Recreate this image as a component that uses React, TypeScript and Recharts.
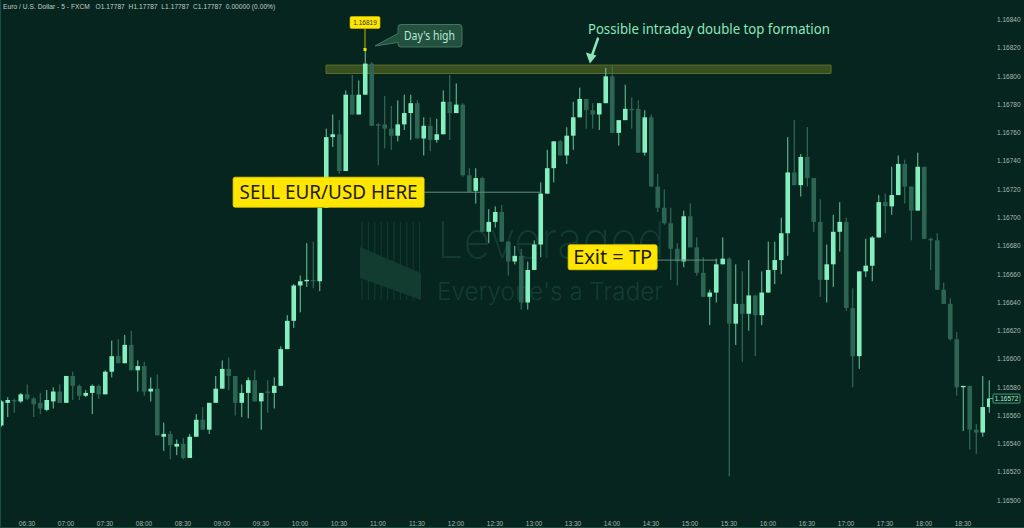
import React from 'react';
import { ComposedChart, Bar, XAxis, YAxis, ReferenceArea, ReferenceLine, ReferenceDot } from 'recharts';

// EUR/USD 5-minute candles, first bar at index -4 (06:10), index 0 = 06:30
const firstIndex = -4;

const opens = [
  1.16553, 1.16569, 1.16571, 1.16570, 1.16575, 1.16572, 1.16569, 1.16564, 1.16570, 1.16577, 1.16569, 1.16588, 1.16581, 1.16574,
  1.16576, 1.16581, 1.16575, 1.16591, 1.16602, 1.16597, 1.16610, 1.16592, 1.16595, 1.16577,
  1.16579, 1.16545, 1.16547, 1.16538, 1.16540, 1.16530, 1.16545, 1.16557, 1.16550, 1.16569,
  1.16579, 1.16593, 1.16588, 1.16569, 1.16576, 1.16585, 1.16570, 1.16577, 1.16576, 1.16581,
  1.16607, 1.16627, 1.16652, 1.16655, 1.16656, 1.16655, 1.16707, 1.16757, 1.16759, 1.16733,
  1.16787, 1.16773, 1.16787, 1.16809, 1.16766, 1.16766, 1.16763, 1.16758, 1.16766, 1.16774,
  1.16781, 1.16756, 1.16765, 1.16755, 1.16759, 1.16782, 1.16774, 1.16780, 1.16730, 1.16719,
  1.16728, 1.16690, 1.16697, 1.16704, 1.16683, 1.16669, 1.16673, 1.16640, 1.16663, 1.16681,
  1.16717, 1.16735, 1.16754, 1.16744, 1.16758, 1.16771, 1.16784, 1.16776, 1.16773, 1.16781,
  1.16800, 1.16760, 1.16769, 1.16777, 1.16777, 1.16746, 1.16771, 1.16722, 1.16707, 1.16696,
  1.16678, 1.16669, 1.16701, 1.16679, 1.16661, 1.16644, 1.16647, 1.16667, 1.16671, 1.16625,
  1.16639, 1.16632, 1.16645, 1.16631, 1.16647, 1.16663, 1.16670, 1.16689, 1.16732, 1.16723,
  1.16743, 1.16728, 1.16697, 1.16656, 1.16667, 1.16690, 1.16697, 1.16636, 1.16602, 1.16662,
  1.16666, 1.16686, 1.16711, 1.16708, 1.16716, 1.16738, 1.16722, 1.16705, 1.16736, 1.16685,
  1.16684, 1.16649, 1.16639, 1.16614, 1.16580, 1.16581, 1.16550, 1.16548, 1.16566,
];

const highs = [
  1.16571, 1.16573, 1.16572, 1.16576, 1.16582, 1.16573, 1.16576, 1.16578, 1.16580, 1.16582, 1.16588, 1.16591, 1.16582, 1.16578,
  1.16582, 1.16582, 1.16592, 1.16613, 1.16614, 1.16617, 1.16620, 1.16599, 1.16598, 1.16587,
  1.16589, 1.16555, 1.16549, 1.16543, 1.16544, 1.16547, 1.16561, 1.16566, 1.16569, 1.16588,
  1.16599, 1.16601, 1.16588, 1.16582, 1.16587, 1.16592, 1.16576, 1.16585, 1.16587, 1.16609,
  1.16631, 1.16653, 1.16659, 1.16682, 1.16683, 1.16707, 1.16763, 1.16773, 1.16769, 1.16790,
  1.16801, 1.16797, 1.16819, 1.16810, 1.16767, 1.16786, 1.16779, 1.16783, 1.16787, 1.16787,
  1.16783, 1.16771, 1.16771, 1.16770, 1.16790, 1.16801, 1.16795, 1.16781, 1.16735, 1.16735,
  1.16729, 1.16706, 1.16708, 1.16709, 1.16683, 1.16680, 1.16678, 1.16669, 1.16684, 1.16725,
  1.16748, 1.16754, 1.16755, 1.16764, 1.16782, 1.16792, 1.16784, 1.16781, 1.16781, 1.16806,
  1.16807, 1.16769, 1.16794, 1.16785, 1.16783, 1.16776, 1.16773, 1.16731, 1.16720, 1.16707,
  1.16682, 1.16705, 1.16710, 1.16686, 1.16672, 1.16649, 1.16671, 1.16686, 1.16672, 1.16667,
  1.16662, 1.16670, 1.16645, 1.16662, 1.16683, 1.16683, 1.16700, 1.16757, 1.16769, 1.16745,
  1.16764, 1.16728, 1.16713, 1.16681, 1.16702, 1.16711, 1.16700, 1.16650, 1.16662, 1.16685,
  1.16687, 1.16716, 1.16717, 1.16736, 1.16744, 1.16741, 1.16722, 1.16746, 1.16736, 1.16686,
  1.16689, 1.16654, 1.16643, 1.16619, 1.16581, 1.16581, 1.16554, 1.16588, 1.16585,
];

const lows = [
  1.16552, 1.16559, 1.16562, 1.16569, 1.16571, 1.16559, 1.16561, 1.16563, 1.16565, 1.16569, 1.16569, 1.16571, 1.16571, 1.16573,
  1.16561, 1.16572, 1.16575, 1.16587, 1.16597, 1.16597, 1.16592, 1.16577, 1.16574, 1.16570,
  1.16546, 1.16535, 1.16529, 1.16532, 1.16529, 1.16530, 1.16545, 1.16550, 1.16547, 1.16569,
  1.16579, 1.16578, 1.16560, 1.16559, 1.16558, 1.16570, 1.16550, 1.16562, 1.16565, 1.16581,
  1.16607, 1.16622, 1.16633, 1.16651, 1.16650, 1.16648, 1.16707, 1.16750, 1.16731, 1.16733,
  1.16773, 1.16773, 1.16787, 1.16765, 1.16737, 1.16749, 1.16748, 1.16754, 1.16762, 1.16755,
  1.16756, 1.16744, 1.16747, 1.16753, 1.16759, 1.16755, 1.16774, 1.16729, 1.16718, 1.16710,
  1.16690, 1.16682, 1.16693, 1.16683, 1.16659, 1.16667, 1.16635, 1.16635, 1.16663, 1.16672,
  1.16717, 1.16725, 1.16744, 1.16738, 1.16748, 1.16771, 1.16763, 1.16763, 1.16762, 1.16781,
  1.16760, 1.16751, 1.16769, 1.16763, 1.16746, 1.16744, 1.16722, 1.16704, 1.16695, 1.16656,
  1.16652, 1.16665, 1.16679, 1.16659, 1.16644, 1.16624, 1.16640, 1.16667, 1.16517, 1.16610,
  1.16598, 1.16620, 1.16602, 1.16624, 1.16647, 1.16653, 1.16660, 1.16673, 1.16723, 1.16715,
  1.16722, 1.16690, 1.16644, 1.16640, 1.16651, 1.16676, 1.16634, 1.16580, 1.16593, 1.16658,
  1.16655, 1.16686, 1.16689, 1.16702, 1.16716, 1.16710, 1.16684, 1.16705, 1.16685, 1.16663,
  1.16649, 1.16639, 1.16613, 1.16574, 1.16549, 1.16536, 1.16533, 1.16545, 1.16562,
];

const closes = [
  1.16570, 1.16571, 1.16570, 1.16575, 1.16572, 1.16568, 1.16565, 1.16571, 1.16577, 1.16569, 1.16588, 1.16581, 1.16574, 1.16576,
  1.16581, 1.16575, 1.16591, 1.16602, 1.16597, 1.16610, 1.16592, 1.16595, 1.16577, 1.16579,
  1.16546, 1.16547, 1.16539, 1.16540, 1.16530, 1.16545, 1.16557, 1.16550, 1.16569, 1.16579,
  1.16593, 1.16588, 1.16569, 1.16576, 1.16585, 1.16570, 1.16576, 1.16576, 1.16581, 1.16607,
  1.16627, 1.16652, 1.16655, 1.16656, 1.16655, 1.16707, 1.16757, 1.16759, 1.16733, 1.16787,
  1.16773, 1.16787, 1.16809, 1.16765, 1.16765, 1.16763, 1.16758, 1.16766, 1.16774, 1.16781,
  1.16756, 1.16765, 1.16755, 1.16759, 1.16782, 1.16774, 1.16780, 1.16730, 1.16718, 1.16728,
  1.16690, 1.16697, 1.16704, 1.16683, 1.16669, 1.16673, 1.16640, 1.16663, 1.16681, 1.16717,
  1.16735, 1.16754, 1.16744, 1.16758, 1.16771, 1.16784, 1.16776, 1.16773, 1.16781, 1.16800,
  1.16760, 1.16769, 1.16777, 1.16776, 1.16746, 1.16771, 1.16722, 1.16707, 1.16696, 1.16678,
  1.16669, 1.16701, 1.16679, 1.16661, 1.16644, 1.16647, 1.16667, 1.16671, 1.16625, 1.16639,
  1.16632, 1.16645, 1.16631, 1.16647, 1.16663, 1.16670, 1.16689, 1.16732, 1.16723, 1.16743,
  1.16728, 1.16697, 1.16656, 1.16667, 1.16690, 1.16697, 1.16636, 1.16602, 1.16662, 1.16666,
  1.16686, 1.16711, 1.16708, 1.16716, 1.16738, 1.16722, 1.16705, 1.16736, 1.16685, 1.16684,
  1.16649, 1.16639, 1.16614, 1.16580, 1.16581, 1.16550, 1.16548, 1.16566, 1.16572,
];

// time axis labels, one every 6 bars (30 minutes)
const timeLabels = [
  '06:30', '07:00', '07:30', '08:00', '08:30', '09:00', '09:30', '10:00', '10:30', '11:00', '11:30', '12:00', '12:30',
  '13:00', '13:30', '14:00', '14:30', '15:00', '15:30', '16:00', '16:30', '17:00', '17:30', '18:00', '18:30',
];
const barsPerLabel = 6;

const priceTicks = [
  1.165, 1.1652, 1.1654, 1.1656, 1.1658, 1.166, 1.1662, 1.1664, 1.1666,
  1.1668, 1.167, 1.1672, 1.1674, 1.1676, 1.1678, 1.168, 1.1682, 1.1684,
];

// resistance zone of the double top
const zoneFrom = 46;
const zoneTo = 123.7;
const zoneLow = 1.16802;
const zoneHigh = 1.16808;

// trade annotations
const sellLevel = 1.16718;
const sellBox = { idx: 46.4, price: 1.16718 };
const sellLineFrom = 61.1;
const sellLineTo = 79;
const exitLevel = 1.1667;
const exitBox = { idx: 90.1, price: 1.16672 };
const exitLineFrom = 96.9;
const exitLineTo = 106.2;
const doubleTopArrow = { idx: 86.6, price: 1.16809 };

const candles = opens.map((o, k) => ({
  idx: firstIndex + k,
  open: o,
  high: highs[k],
  low: lows[k],
  close: closes[k],
}));

const dayHigh = Math.max(...highs);
const dayHighIdx = firstIndex + highs.indexOf(dayHigh);
const lastClose = closes[closes.length - 1];

const BG = '#06251f';
const UP = '#86efbf';
const UP_WICK = '#6cc9a0';
const DOWN = '#2d6553';
const DOWN_WICK = '#3b7662';
const YELLOW = '#ffe600';
const MINT = '#8fe6ba';
const AXIS_TEXT = '#a6bab2';

const Candle = (props: any) => {
  const { x, y, width, height, payload } = props;
  if (x == null || y == null || !payload) return null;
  const { open, close, high, low } = payload;
  const k = high > low ? height / (high - low) : 0;
  const cx = x + width / 2;
  const top = y + (high - Math.max(open, close)) * k;
  const bottom = y + (high - Math.min(open, close)) * k;
  const up = close >= open;
  const bodyH = Math.max(bottom - top, 1.2);
  return (
    <g>
      <rect x={cx - 0.5} y={y} width={1} height={Math.max(height, 1)} fill={up ? UP_WICK : DOWN_WICK} />
      <rect x={cx - 2.3} y={top} width={4.6} height={bodyH} fill={up ? UP : DOWN} />
    </g>
  );
};

const DayHighMarks = (props: any) => {
  const { cx, cy } = props;
  if (cx == null || cy == null) return null;
  return (
    <g>
      <line x1={cx} y1={cy - 21} x2={cx} y2={cy} stroke="#c8b400" strokeWidth={1} />
      <rect x={cx - 1.5} y={cy - 1.5} width={3} height={3} fill={YELLOW} />
      <rect x={cx - 15} y={cy - 33} width={30} height={12} rx={1.5} fill={YELLOW} stroke="#d9c300" strokeWidth={0.6} />
      <text x={cx} y={cy - 24.6} textAnchor="middle" fontSize={6.5} fill="#333" fontFamily="Liberation Sans, sans-serif">
        {dayHigh.toFixed(5)}
      </text>
      <path
        d={`M ${cx + 36} ${cy - 25} L ${cx + 94} ${cy - 25} Q ${cx + 97} ${cy - 25} ${cx + 97} ${cy - 22} L ${cx + 97} ${cy - 5.5} Q ${cx + 97} ${cy - 2.5} ${cx + 94} ${cy - 2.5} L ${cx + 36} ${cy - 2.5} Q ${cx + 33} ${cy - 2.5} ${cx + 33} ${cy - 5.5} L ${cx + 33} ${cy - 7} L ${cx + 10} ${cy - 3.5} L ${cx + 33} ${cy - 16} L ${cx + 33} ${cy - 22} Q ${cx + 33} ${cy - 25} ${cx + 36} ${cy - 25} Z`}
        fill="#24503f"
        stroke="#3f7a63"
        strokeWidth={1}
      />
      <text x={cx + 39} y={cy - 9.5} fontSize={12} fill="#b4ecd0" textLength={51} lengthAdjust="spacingAndGlyphs" fontFamily="Noto Sans, sans-serif">
        Day's high
      </text>
    </g>
  );
};

const DoubleTopNote = (props: any) => {
  const { cx, cy } = props;
  if (cx == null || cy == null) return null;
  return (
    <g>
      <text x={cx - 2} y={cy - 29.5} fontSize={14} fill={MINT} textLength={242} lengthAdjust="spacingAndGlyphs" fontFamily="Noto Sans, sans-serif">
        Possible intraday double top formation
      </text>
      <line x1={cx + 8} y1={cy - 25} x2={cx + 2} y2={cy - 8} stroke={MINT} strokeWidth={2.6} strokeLinecap="round" />
      <path d={`M ${cx} ${cy} L ${cx - 4} ${cy - 11} L ${cx + 6.5} ${cy - 8} Z`} fill={MINT} />
    </g>
  );
};

const YellowLabel = (w: number, h: number, text: string, fontSize: number, textW: number) => (props: any) => {
  const { cx, cy } = props;
  if (cx == null || cy == null) return null;
  return (
    <g>
      <rect x={cx - w / 2} y={cy - h / 2} width={w} height={h} rx={2} fill={YELLOW} stroke="#e6cf00" strokeWidth={0.8} />
      <text
        x={cx}
        y={cy + fontSize * 0.36}
        textAnchor="middle"
        fontSize={fontSize}
        fill="#1c1c14"
        textLength={textW}
        lengthAdjust="spacingAndGlyphs"
        fontFamily="Noto Sans, sans-serif"
      >
        {text}
      </text>
    </g>
  );
};

const SellLabel = YellowLabel(191, 30, 'SELL EUR/USD HERE', 19, 178);
const ExitLabel = YellowLabel(89, 25, 'Exit = TP', 19, 79);

const PriceTag = (props: any) => {
  const vb = props.viewBox;
  if (!vb) return null;
  const x = vb.x + vb.width + 3;
  const y = vb.y;
  return (
    <g>
      <line x1={vb.x + vb.width - 2} y1={y} x2={x} y2={y} stroke="#4fbf8f" strokeWidth={1} />
      <rect x={x} y={y - 4.5} width={27} height={9} rx={1} fill={BG} stroke="#4fbf8f" strokeWidth={0.8} />
      <text x={x + 13.5} y={y + 2.3} textAnchor="middle" fontSize={6.5} fill="#b9f0d4" fontFamily="Liberation Sans, sans-serif">
        {lastClose.toFixed(5)}
      </text>
    </g>
  );
};

const Watermark = () => (
  <svg width={1024} height={528} style={{ position: 'absolute', left: 0, top: 0 }}>
    <g fill="#133c31" stroke="#133c31">
      {Array.from({ length: 10 }).map((_, i) => (
        <line key={i} x1={362 + i * 6.4} y1={222} x2={362 + i * 6.4} y2={300} strokeWidth={1} />
      ))}
      <path d="M 360 247 L 421 273 L 421 300 L 360 278 Z" stroke="none" />
    </g>
    <text x={437} y={258} fontSize={50} fontWeight={200} fill="#133c31" textLength={228} lengthAdjust="spacingAndGlyphs" fontFamily="Inter, sans-serif">
      Leveraged
    </text>
    <text x={437} y={300} fontSize={24} fontWeight={300} fill="#133c31" textLength={226} lengthAdjust="spacingAndGlyphs" fontFamily="Inter, sans-serif">
      Everyone's a Trader
    </text>
  </svg>
);

export default function App() {
  return (
    <div style={{ position: 'absolute', left: 0, top: 0, width: 1024, height: 528, background: BG, overflow: 'hidden' }}>
      <Watermark />
      <div
        style={{
          position: 'absolute',
          left: 3,
          top: 3,
          fontSize: 6.6,
          color: '#c2d0ca',
          fontFamily: 'Liberation Sans, sans-serif',
          whiteSpace: 'pre',
          letterSpacing: 0.05,
        }}
      >
        {'Euro / U.S. Dollar - 5 - FXCM   O1.17787  H1.17787  L1.17787  C1.17787  0.00000 (0.00%)'}
      </div>
      <div style={{ position: 'absolute', left: 0, top: 0 }}>
        <ComposedChart width={1024} height={528} data={candles} margin={{ top: 0, right: 0, bottom: 0, left: 0 }}>
          <XAxis
            dataKey="idx"
            type="number"
            domain={[-4.154, 148.154]}
            allowDataOverflow
            ticks={timeLabels.map((_, k) => k * barsPerLabel)}
            tickFormatter={(v: number) => timeLabels[Math.round(v / barsPerLabel)] ?? ''}
            axisLine={false}
            tickLine={false}
            tickSize={0}
            tickMargin={15}
            height={22}
            interval={0}
            tick={{ fill: AXIS_TEXT, fontSize: 6.5, fontFamily: 'Liberation Sans, sans-serif' }}
          />
          <YAxis
            orientation="right"
            type="number"
            domain={[1.16496, 1.16854]}
            allowDataOverflow
            ticks={priceTicks}
            interval={0}
            tickFormatter={(v: number) => v.toFixed(5)}
            axisLine={false}
            tickLine={false}
            tickSize={0}
            tickMargin={7}
            width={34}
            tick={{ fill: AXIS_TEXT, fontSize: 6.5, fontFamily: 'Liberation Sans, sans-serif', textAnchor: 'start' }}
          />
          <ReferenceArea
            x1={zoneFrom}
            x2={zoneTo}
            y1={zoneLow}
            y2={zoneHigh}
            fill="#4b5e22"
            fillOpacity={0.75}
            stroke="#5f7430"
            strokeOpacity={0.9}
          />
          <Bar
            dataKey={(d: any) => [d.low, d.high]}
            barSize={5}
            shape={<Candle />}
            isAnimationActive={false}
          />
          <ReferenceLine
            segment={[
              { x: sellLineFrom, y: sellLevel },
              { x: sellLineTo, y: sellLevel },
            ]}
            stroke="#5c8f7b"
            strokeWidth={1}
          />
          <ReferenceLine
            segment={[
              { x: exitLineFrom, y: exitLevel },
              { x: exitLineTo, y: exitLevel },
            ]}
            stroke="#5c8f7b"
            strokeWidth={1}
          />
          <ReferenceLine y={lastClose} stroke="none" label={(p: any) => <PriceTag {...p} />} />
          <ReferenceDot x={sellBox.idx} y={sellBox.price} r={1} shape={SellLabel} />
          <ReferenceDot x={exitBox.idx} y={exitBox.price} r={1} shape={ExitLabel} />
          <ReferenceDot x={dayHighIdx} y={dayHigh} r={1} shape={DayHighMarks} />
          <ReferenceDot x={doubleTopArrow.idx} y={doubleTopArrow.price} r={1} shape={DoubleTopNote} />
        </ComposedChart>
      </div>
      <div
        style={{
          position: 'absolute',
          left: 0,
          top: 0,
          width: 1024,
          height: 528,
          boxSizing: 'border-box',
          borderLeft: '1px solid #1d4d3e',
          borderBottom: '1px solid #1d4d3e',
          pointerEvents: 'none',
        }}
      />
    </div>
  );
}
